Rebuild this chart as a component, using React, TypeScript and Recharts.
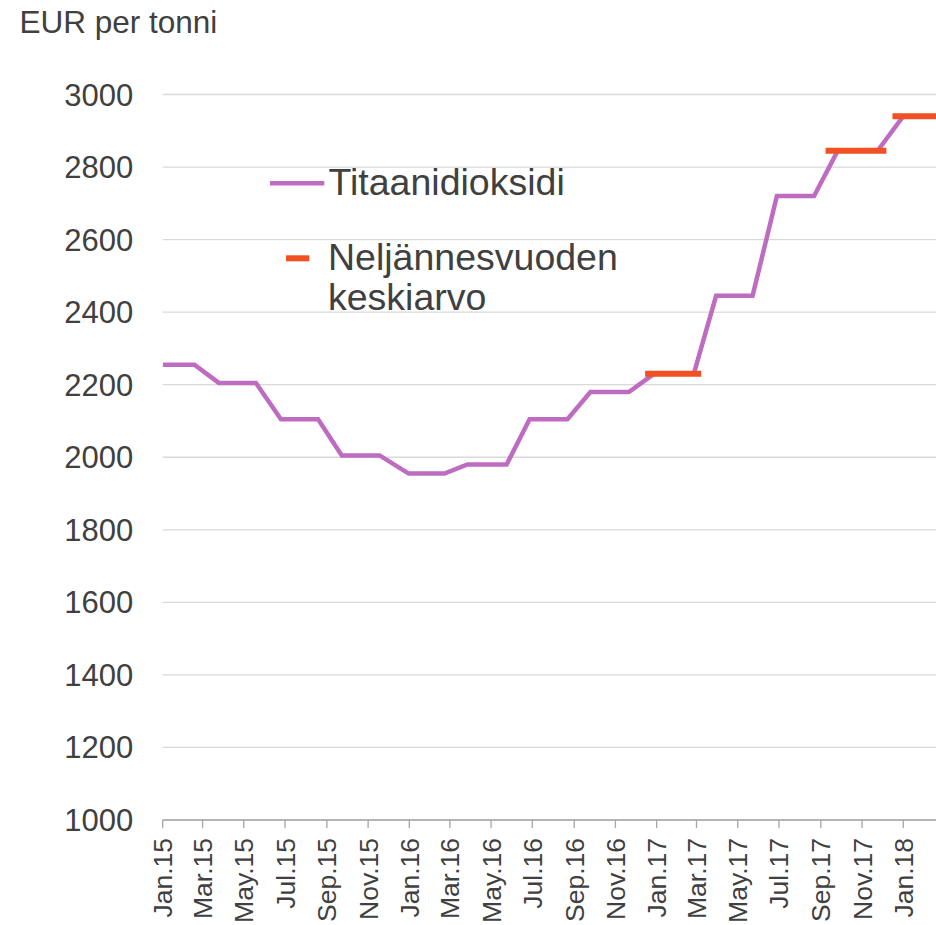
import React from 'react';
import { LineChart, Line, XAxis, YAxis, CartesianGrid } from 'recharts';

// ---- Data ----
const tickDates = [
  '2015-01-01', '2015-03-01', '2015-05-01', '2015-07-01', '2015-09-01', '2015-11-01',
  '2016-01-01', '2016-03-01', '2016-05-01', '2016-07-01', '2016-09-01', '2016-11-01',
  '2017-01-01', '2017-03-01', '2017-05-01', '2017-07-01', '2017-09-01', '2017-11-01',
  '2018-01-01',
];
const tickLabels = [
  'Jan.15', 'Mar.15', 'May.15', 'Jul.15', 'Sep.15', 'Nov.15',
  'Jan.16', 'Mar.16', 'May.16', 'Jul.16', 'Sep.16', 'Nov.16',
  'Jan.17', 'Mar.17', 'May.17', 'Jul.17', 'Sep.17', 'Nov.17',
  'Jan.18',
];

// Titaanidioksidi price series (dates of the line's corner points)
const priceDates = [
  '2015-01-01', '2015-02-17', '2015-03-25', '2015-05-19', '2015-06-25', '2015-08-19',
  '2015-09-23', '2015-11-18', '2015-12-31', '2016-02-22', '2016-03-27', '2016-05-24',
  '2016-06-27', '2016-08-22', '2016-09-25', '2016-11-21', '2016-12-28', '2017-02-25',
  '2017-03-30', '2017-05-23', '2017-06-28', '2017-08-22', '2017-09-26', '2017-11-24',
  '2018-01-01', '2018-02-20',
];
const priceValues = [
  2255, 2255, 2205, 2205, 2105, 2105,
  2005, 2005, 1955, 1955, 1980, 1980,
  2105, 2105, 2180, 2180, 2230, 2230,
  2445, 2445, 2720, 2720, 2845, 2845,
  2940, 2940,
];

// Quarterly averages (Neljännesvuoden keskiarvo)
const avgStartDates = ['2016-12-15', '2017-09-08', '2017-12-16'];
const avgEndDates = ['2017-03-08', '2017-12-07', '2018-03-08'];
const avgValues = [2230, 2845, 2940];

const yTicks = [1000, 1200, 1400, 1600, 1800, 2000, 2200, 2400, 2600, 2800, 3000];
const domainStart = '2015-01-01';
const domainEnd = '2018-03-31';

// ---- helpers ----
const dayOf = (s: string) => {
  const [y, m, d] = s.split('-').map(Number);
  return Date.UTC(y, m - 1, d) / 86400000;
};
const base = dayOf(domainStart);
const toT = (s: string) => dayOf(s) - base;

const priceData = priceDates.map((d, i) => ({ t: toT(d), v: priceValues[i] }));
const avgData: { t: number; v: number | null }[] = [];
avgValues.forEach((v, i) => {
  avgData.push({ t: toT(avgStartDates[i]), v });
  avgData.push({ t: toT(avgEndDates[i]), v });
  avgData.push({ t: toT(avgEndDates[i]) + 1, v: null });
});
const tickDays = tickDates.map(toT);

const FONT = '"Liberation Sans", Arial, Helvetica, sans-serif';
const TEXT = '#404040';
const PURPLE = '#BE6CC2';
const ORANGE = '#F05022';

const XTick = (props: any) => {
  const { x, y, payload } = props;
  const idx = tickDays.indexOf(payload.value);
  const label = idx >= 0 ? tickLabels[idx] : '';
  return (
    <text
      transform={`translate(${x},${y}) rotate(-90)`}
      textAnchor="end"
      dy="0.36em"
      fontSize={26.5}
      fontFamily={FONT}
      fill={TEXT}
    >
      {label}
    </text>
  );
};

const YTick = (props: any) => {
  const { x, y, payload } = props;
  return (
    <text x={x} y={y} textAnchor="end" dy="0.355em" fontSize={31} fontFamily={FONT} fill={TEXT}>
      {payload.value}
    </text>
  );
};

export default function App() {
  return (
    <div
      style={{
        position: 'absolute',
        left: 0,
        top: 0,
        width: 936,
        height: 925,
        overflow: 'hidden',
        background: '#fff',
      }}
    >
      <LineChart
        width={1000}
        height={925}
        margin={{ top: 94.5, right: 36.6, bottom: 0, left: 62.7 }}
      >
        <CartesianGrid horizontal vertical={false} stroke="#d9d9d9" strokeWidth={1.3} />
        <XAxis
          type="number"
          dataKey="t"
          domain={[0, toT(domainEnd)]}
          ticks={tickDays}
          allowDataOverflow
          height={105}
          interval={0}
          axisLine={{ stroke: '#a6a6a6', strokeWidth: 1.3 }}
          tickLine={{ stroke: '#a6a6a6', strokeWidth: 1.3 }}
          tickSize={8}
          tickMargin={10}
          tick={<XTick />}
        />
        <YAxis
          type="number"
          domain={[1000, 3000]}
          ticks={yTicks}
          width={100}
          axisLine={false}
          tickLine={false}
          tickSize={0}
          tickMargin={29.5}
          interval={0}
          tick={<YTick />}
        />
        <Line
          data={priceData}
          dataKey="v"
          type="linear"
          stroke={PURPLE}
          strokeWidth={4.5}
          dot={false}
          activeDot={false}
          isAnimationActive={false}
        />
        <Line
          data={avgData}
          dataKey="v"
          type="linear"
          stroke={ORANGE}
          strokeWidth={6}
          strokeLinecap="butt"
          dot={false}
          activeDot={false}
          connectNulls={false}
          isAnimationActive={false}
        />
      </LineChart>

      <svg
        width={936}
        height={925}
        style={{ position: 'absolute', left: 0, top: 0, pointerEvents: 'none' }}
      >
        <text x={19.5} y={33.3} fontSize={31.5} fontFamily={FONT} fill={TEXT}>
          EUR per tonni
        </text>
        <line x1={270} x2={324.3} y1={183.3} y2={183.3} stroke={PURPLE} strokeWidth={4.5} />
        <text x={328.5} y={195} fontSize={37.5} fontFamily={FONT} fill={TEXT}>
          Titaanidioksidi
        </text>
        <line x1={286} x2={309.3} y1={258.3} y2={258.3} stroke={ORANGE} strokeWidth={6} />
        <text x={328} y={270} fontSize={37.5} fontFamily={FONT} fill={TEXT}>
          Neljännesvuoden
        </text>
        <text x={328} y={309.5} fontSize={37.5} fontFamily={FONT} fill={TEXT}>
          keskiarvo
        </text>
      </svg>
    </div>
  );
}
